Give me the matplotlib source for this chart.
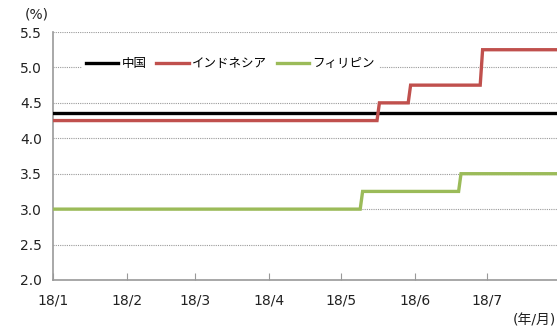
import matplotlib
matplotlib.use("Agg")
import matplotlib.pyplot as plt
import matplotlib.dates as mdates
import numpy as np
import pandas as pd

plt.rcParams['font.family'] = ['DejaVu Sans', 'Noto Sans CJK JP']

# Policy rates (%), given as the dates bracketing each change
china_dates = ["2018-01-01", "2018-07-30"]
china_rate = [4.35, 4.35]

indonesia_dates = ["2018-01-01", "2018-05-16", "2018-05-17", "2018-05-29",
                   "2018-05-30", "2018-06-28", "2018-06-29", "2018-07-30"]
indonesia_rate = [4.25, 4.25, 4.50, 4.50, 4.75, 4.75, 5.25, 5.25]

philippines_dates = ["2018-01-01", "2018-05-09", "2018-05-10", "2018-06-19",
                     "2018-06-20", "2018-07-30"]
philippines_rate = [3.00, 3.00, 3.25, 3.25, 3.50, 3.50]

series_names = ["中国", "インドネシア", "フィリピン"]
series_colors = ["#000000", "#C0504D", "#9BBB59"]

month_ticks = ["2018-01-01", "2018-02-01", "2018-03-01", "2018-04-01",
               "2018-05-01", "2018-06-01", "2018-07-01"]
month_labels = ["18/1", "18/2", "18/3", "18/4", "18/5", "18/6", "18/7"]
y_ticks = [2.0, 2.5, 3.0, 3.5, 4.0, 4.5, 5.0, 5.5]

fig = plt.figure(figsize=(5.57, 3.29), dpi=100)
ax = fig.add_axes([0.0952, 0.149, 0.9048, 0.7537])

all_series = [(china_dates, china_rate), (indonesia_dates, indonesia_rate),
              (philippines_dates, philippines_rate)]
for (d, v), name, c in zip(all_series, series_names, series_colors):
    ax.plot(pd.to_datetime(d), v, color=c, lw=2.4, label=name,
            solid_joinstyle="miter", zorder=3)

ax.set_xlim(pd.Timestamp("2018-01-01"), pd.Timestamp("2018-07-30"))
ax.set_ylim(2.0, 5.5)
ax.set_yticks(y_ticks)
ax.set_yticklabels([f"{t:.1f}" for t in y_ticks], fontsize=10)
ax.set_xticks(pd.to_datetime(month_ticks))
ax.set_xticklabels(month_labels, fontsize=10)

ax.yaxis.grid(True, color="#9a9a9a", linestyle=(0, (1, 1)), lw=0.8)
ax.tick_params(axis="y", length=0, pad=8, colors="#222222")
ax.tick_params(axis="x", direction="in", length=5, color="#999999",
               pad=10, labelcolor="#222222")

for s in ["top", "right"]:
    ax.spines[s].set_visible(False)
for s in ["left", "bottom"]:
    ax.spines[s].set_color("#999999")
    ax.spines[s].set_linewidth(1.2)

leg = ax.legend(loc="upper left", bbox_to_anchor=(0.045, 0.94), ncol=3,
                frameon=True, fontsize=9, handlelength=2.6,
                handletextpad=0.25, columnspacing=0.8, borderpad=0.3,
                fancybox=False)
leg.get_frame().set_edgecolor("none")
leg.get_frame().set_facecolor("white")
leg.get_frame().set_alpha(1.0)

fig.text(0.045, 0.955, "(%)", fontsize=10, ha="left", va="center",
         color="#222222")
fig.text(0.998, 0.027, "(年/月)", fontsize=10, ha="right", va="center",
         color="#222222")

fig.savefig("out.png", dpi=100)
